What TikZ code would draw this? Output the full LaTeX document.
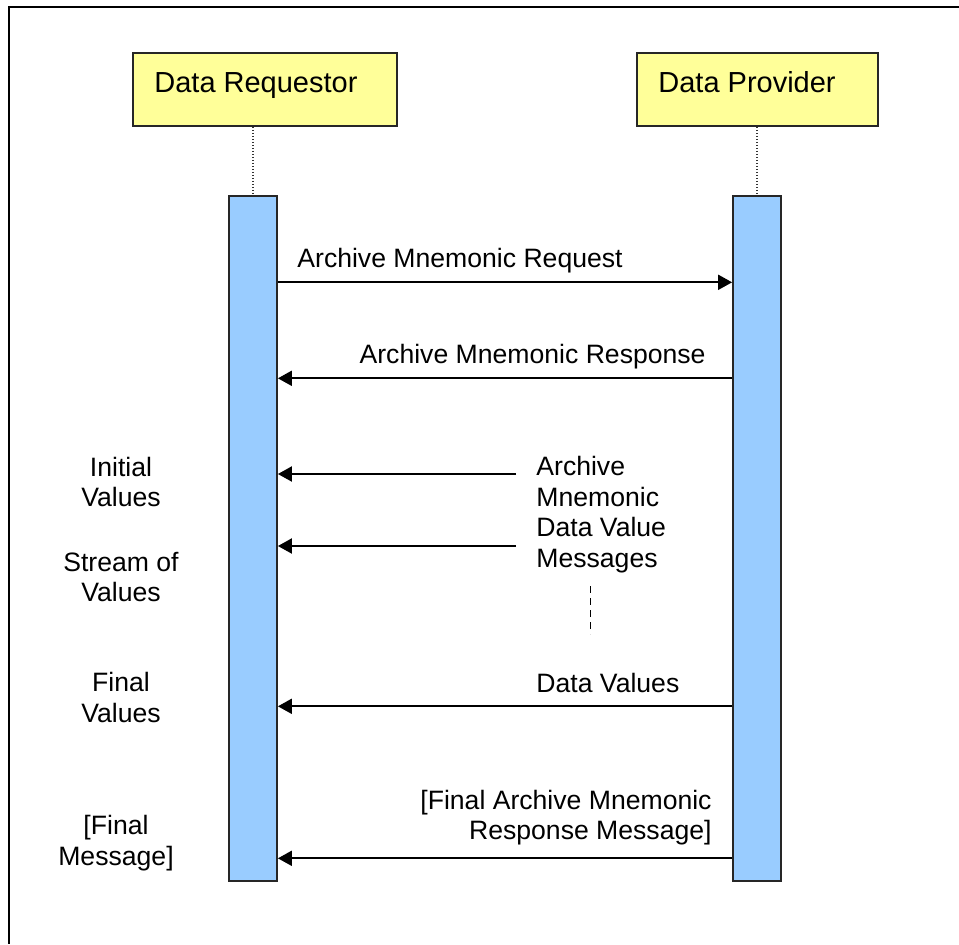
\documentclass[tikz,border=0pt]{standalone}
\usepackage{fontspec}
\setmainfont{Liberation Sans}
\usetikzlibrary{arrows.meta}
\definecolor{boxyellow}{HTML}{FFFF99}
\definecolor{barblue}{HTML}{99CCFF}
\begin{document}
\begin{tikzpicture}[x=0.5pt,y=-0.5pt,
  actor/.style={draw=black!85, line width=1pt, fill=boxyellow,
    minimum height=36.5pt, inner sep=0},
  actortext/.style={font=\fontsize{14.5}{17}\selectfont, inner sep=0, anchor=base west},
  activation/.style={draw=black!85, line width=0.9pt, fill=barblue,
    minimum width=24pt, minimum height=342.5pt, inner sep=0},
  lifeline/.style={draw=black!80, line width=0.8pt, dash pattern=on 0.75pt off 0.75pt},
  msg/.style={draw=black, line width=1pt, -{Triangle[length=7pt,width=7.5pt]}},
  lbl/.style={font=\fontsize{13.3}{15.2}\selectfont, inner sep=0},
  frame/.style={draw=black, line width=1pt}
]
  \useasboundingbox (0,0) rectangle (959,944);

  % open frame (top and left edges)
  \draw[frame] (959,7.3) -- (9,7.3) -- (9,944);

  % participants
  \node[actor, minimum width=132pt] (rbox) at (265,89.3) {};
  \node[actor, minimum width=120.5pt] (pbox) at (757.3,89.3) {};
  \node[actortext] (rname) at (154,92) {Data Requestor};
  \node[actortext] (pname) at (658,92) {Data Provider};

  % activation bars
  \node[activation] (rbar) at (253,538.5) {};
  \node[activation] (pbar) at (757,538.5) {};

  % lifelines
  \draw[lifeline] (rbar.north |- rbox.south) -- (rbar.north);
  \draw[lifeline] (pbar.north |- pbox.south) -- (pbar.north);

  % message levels
  \coordinate (yreq) at (0,282.3);
  \coordinate (yresp) at (0,378.3);
  \coordinate (yinit) at (516,474);
  \coordinate (ystream) at (516,546);
  \coordinate (yfinal) at (0,706.3);
  \coordinate (ylast) at (0,858.3);

  % messages
  \draw[msg] (rbar.east |- yreq) -- (pbar.west |- yreq);
  \draw[msg] (pbar.west |- yresp) -- (rbar.east |- yresp);
  \draw[msg] (yinit) -- (rbar.east |- yinit);
  \draw[msg] (ystream) -- (rbar.east |- ystream);
  \draw[msg] (pbar.west |- yfinal) -- (rbar.east |- yfinal);
  \draw[msg] (pbar.west |- ylast) -- (rbar.east |- ylast);

  % continuation mark
  \coordinate (dtop) at (590,586);
  \coordinate (dbot) at (590,634);
  \draw[black, line width=0.5pt, dash pattern=on 3.5pt off 2.5pt] (dtop) -- (dbot);

  % message labels (multi-line nodes are anchored on their last baseline)
  \node[lbl, anchor=base west] (lreq) at (297,267) {Archive Mnemonic Request};
  \node[lbl, anchor=base east] (lresp) at (706,363) {Archive Mnemonic Response};
  \node[lbl, anchor=base west, align=left] (ldata) at (536,567)
    {Archive\\Mnemonic\\Data Value\\Messages};
  \node[lbl, anchor=base west] (lvals) at (536,692) {Data Values};
  \node[lbl, anchor=base east, align=right] (llast) at (712,839.5)
    {[Final Archive Mnemonic\\Response Message]};

  % phase labels
  \node[lbl, anchor=base, align=center] (pinit) at (121,506.4) {Initial\\Values};
  \node[lbl, anchor=base, align=center] (pstream) at (121,601.7) {Stream of\\Values};
  \node[lbl, anchor=base, align=center] (pfinal) at (121,722) {Final\\Values};
  \node[lbl, anchor=base, align=center] (pmsg) at (116,865) {[Final\\Message]};
\end{tikzpicture}
\end{document}
